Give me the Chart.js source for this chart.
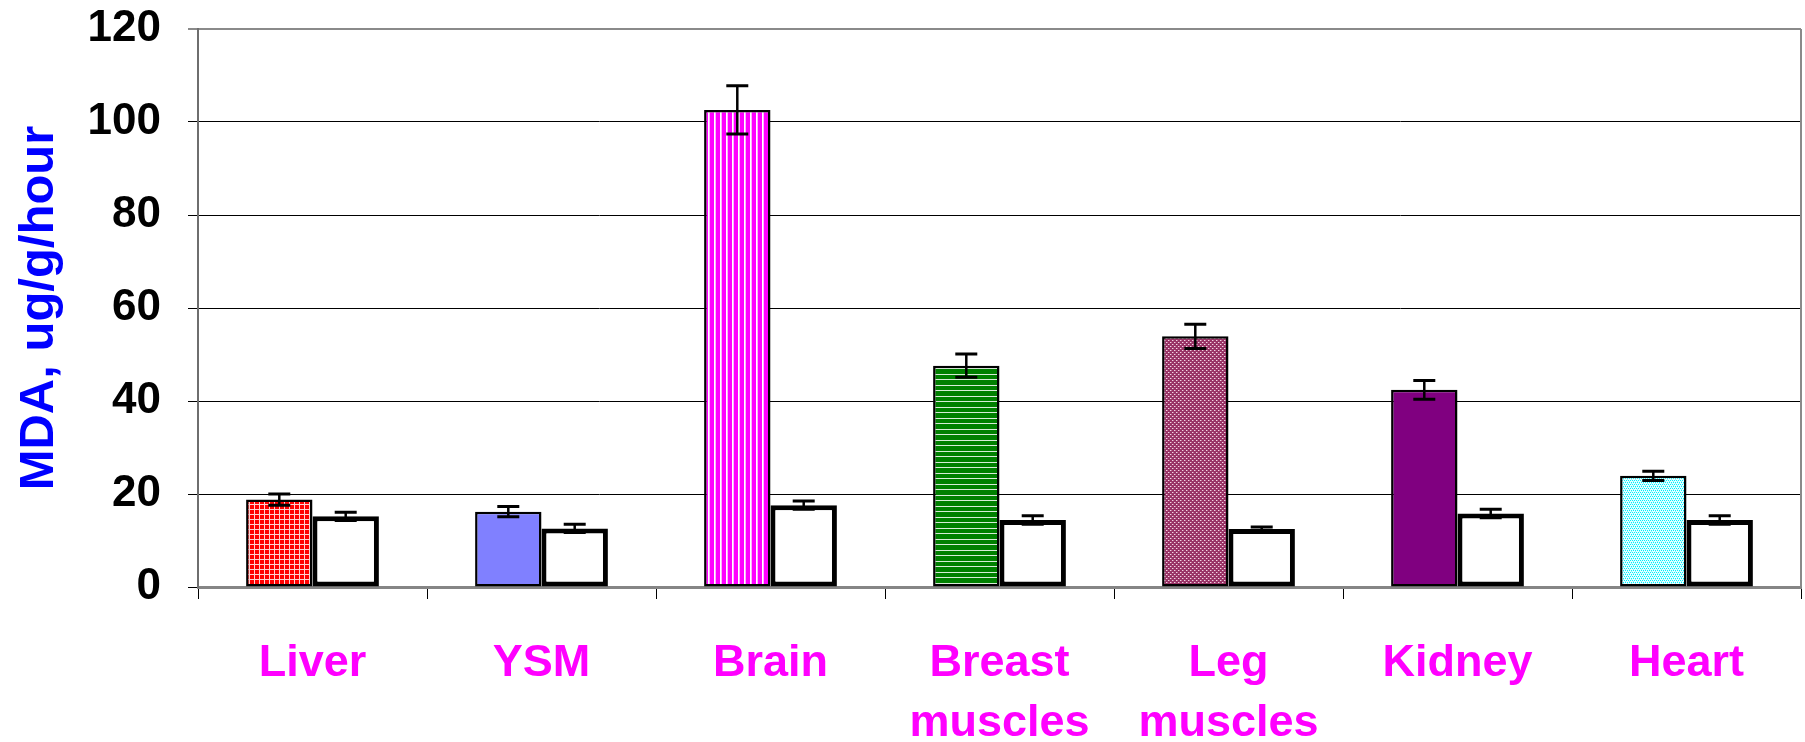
<!DOCTYPE html>
<html>
<head>
<meta charset="utf-8">
<script src="https://cdn.jsdelivr.net/npm/chart.js@4.4.0/dist/chart.umd.min.js"></script>
<style>
  html, body { margin: 0; padding: 0; background: #fff; }
</style>
</head>
<body>
<canvas id="mdaChart" width="1805" height="742"></canvas>
<script>
// tissue groups and MDA values (mean, +/- error)
const tissues = ['Liver', 'YSM', 'Brain', ['Breast', 'muscles'], ['Leg', 'muscles'], 'Kidney', 'Heart'];
const firstValues = [18.8, 16.2, 102.6, 47.6, 53.9, 42.4, 23.9];
const firstErrors = [1.2, 1.1, 5.2, 2.5, 2.6, 2.0, 1.0];
const secondValues = [15.2, 12.6, 17.6, 14.4, 12.5, 15.8, 14.4];
const secondErrors = [0.9, 0.9, 0.9, 0.9, 0.4, 0.9, 0.9];
const yTicks = [0, 20, 40, 60, 80, 100, 120];

const FONT = 'Arial, "Liberation Sans", Helvetica, sans-serif';

// --- fill patterns for the coloured bars ---
function makePattern(w, h, bg, paint) {
    const c = document.createElement('canvas');
    c.width = w;
    c.height = h;
    const p = c.getContext('2d');
    p.fillStyle = bg;
    p.fillRect(0, 0, w, h);
    if (paint) paint(p);
    return p.createPattern(c, 'repeat');
}

const gridRed = makePattern(5, 5, '#ff0000', p => {
    p.fillStyle = '#ffd0d0';
    p.fillRect(4, 0, 1, 5);
    p.fillRect(0, 4, 5, 1);
});
const stripesMagenta = makePattern(6, 6, '#ff00ff', p => {
    p.fillStyle = '#ffffff';
    p.fillRect(0, 0, 1, 6);
    p.fillStyle = '#ffb0ff';
    p.fillRect(1, 0, 1, 6);
});
const stripesGreen = makePattern(11, 11, '#008000', p => {
    p.fillStyle = '#d8ecd8';
    p.fillRect(0, 0, 11, 1);
    p.fillRect(0, 5, 11, 1);
});
const dotsMauve = makePattern(4, 4, '#993366', p => {
    p.fillStyle = '#f2d2e4';
    p.fillRect(0, 0, 1, 1);
    p.fillRect(2, 2, 1, 1);
    p.fillStyle = '#c07898';
    p.fillRect(1, 0, 1, 1);
    p.fillRect(3, 2, 1, 1);
});
const dotsCyan = makePattern(4, 4, '#eaffff', p => {
    p.fillStyle = '#00f0ff';
    p.fillRect(0, 0, 1, 1);
    p.fillRect(2, 0, 1, 1);
    p.fillRect(1, 2, 1, 1);
    p.fillRect(3, 2, 1, 1);
    p.fillStyle = '#90f8ff';
    p.fillRect(1, 1, 1, 1);
    p.fillRect(3, 3, 1, 1);
});

const firstFills = [gridRed, '#8080ff', stripesMagenta, stripesGreen, dotsMauve, '#800080', dotsCyan];

// error bars, drawn from each bar's value through the y scale
const errorBars = {
    id: 'errorBars',
    afterDatasetsDraw(chart) {
        const { ctx } = chart;
        const y = chart.scales.y;
        ctx.save();
        ctx.strokeStyle = '#000';
        ctx.lineCap = 'butt';
        chart.data.datasets.forEach((ds, i) => {
            chart.getDatasetMeta(i).data.forEach((bar, j) => {
                const v = ds.data[j];
                const e = ds.errors[j];
                const top = y.getPixelForValue(v + e);
                const bot = y.getPixelForValue(v - e);
                const half = 11;
                ctx.lineWidth = 2.5;
                ctx.beginPath();
                ctx.moveTo(bar.x, top);
                ctx.lineTo(bar.x, bot);
                ctx.stroke();
                ctx.lineWidth = 3;
                ctx.beginPath();
                ctx.moveTo(bar.x - half, top);
                ctx.lineTo(bar.x + half, top);
                ctx.moveTo(bar.x - half, bot);
                ctx.lineTo(bar.x + half, bot);
                ctx.stroke();
            });
        });
        ctx.restore();
    }
};

// grey right edge of the plot frame
const frameEdge = {
    id: 'frameEdge',
    beforeDatasetsDraw(chart) {
        const { ctx, chartArea } = chart;
        ctx.save();
        ctx.strokeStyle = '#8a8a8a';
        ctx.lineWidth = 2;
        ctx.beginPath();
        ctx.moveTo(chartArea.right, chartArea.top);
        ctx.lineTo(chartArea.right, chartArea.bottom);
        ctx.stroke();
        ctx.restore();
    }
};

new Chart(document.getElementById('mdaChart'), {
    type: 'bar',
    data: {
        labels: tissues,
        datasets: [{
            data: firstValues,
            errors: firstErrors,
            backgroundColor: firstFills,
            borderColor: '#000',
            borderWidth: 2.5,
            borderSkipped: false
        }, {
            data: secondValues,
            errors: secondErrors,
            backgroundColor: '#ffffff',
            borderColor: '#000',
            borderWidth: 5,
            borderSkipped: false
        }]
    },
    options: {
        responsive: false,
        animation: false,
        events: [],
        layout: { padding: { left: 0, right: 4, top: 29, bottom: 0 } },
        datasets: {
            bar: { categoryPercentage: 0.58, barPercentage: 1.0 }
        },
        plugins: {
            legend: { display: false },
            tooltip: { enabled: false }
        },
        scales: {
            x: {
                afterFit(scale) {
                    scale.height = 155;
                    scale.paddingLeft = 0;
                    scale.paddingRight = 0;
                },
                grid: {
                    offset: true,
                    drawOnChartArea: false,
                    drawTicks: true,
                    tickLength: 12,
                    color: '#000',
                    lineWidth: 1
                },
                border: { display: true, color: '#858585', width: 3 },
                ticks: {
                    color: '#ff00ff',
                    padding: 35,
                    maxRotation: 0,
                    autoSkip: false,
                    font: { family: FONT, size: 45, weight: 'bold', lineHeight: 1.33 }
                }
            },
            y: {
                min: yTicks[0],
                max: yTicks[yTicks.length - 1],
                afterFit(scale) {
                    scale.width = 198;
                    scale.paddingTop = 0;
                    scale.paddingBottom = 0;
                },
                afterBuildTicks(scale) { scale.ticks = yTicks.map(v => ({ value: v })); },
                grid: {
                    drawTicks: true,
                    tickLength: 10,
                    color: ctx => (ctx.tick && ctx.tick.value === 120 ? '#8a8a8a' : '#000'),
                    lineWidth: ctx => (ctx.tick && ctx.tick.value === 120 ? 2 : 1)
                },
                border: { display: true, color: '#6e6e6e', width: 2 },
                ticks: {
                    color: '#000',
                    padding: 27,
                    font: { family: FONT, size: 44, weight: 'bold' }
                },
                title: {
                    display: true,
                    text: 'MDA, ug/g/hour',
                    color: '#0000ff',
                    padding: { top: 10, bottom: 0 },
                    font: { family: FONT, size: 49, weight: 'bold' }
                }
            }
        }
    },
    plugins: [frameEdge, errorBars]
});
</script>
</body>
</html>
